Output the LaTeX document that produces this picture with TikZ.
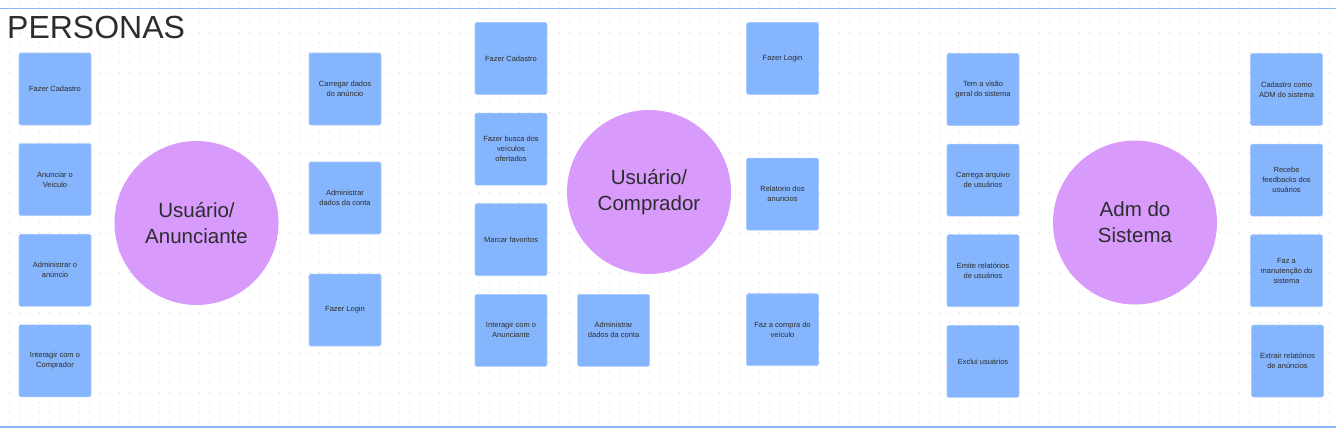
\documentclass[tikz,border=0pt]{standalone}
\usepackage{fontspec}
\setmainfont{Liberation Sans}
\usetikzlibrary{positioning}
\definecolor{notaazul}{RGB}{133,181,252}
\definecolor{circulo}{RGB}{216,155,252}
\definecolor{linhaazul}{RGB}{140,180,245}
\definecolor{texto}{RGB}{45,45,45}

\begin{document}
\begin{tikzpicture}[
    x=1pt, y=-1pt,
    node distance=18pt and 18pt,
    nota/.style={rectangle, draw=notaazul!70!white, line width=0.6pt, fill=notaazul, rounded corners=1.5pt, minimum width=72pt, minimum height=72pt, inner sep=1pt, align=center, text=texto, font=\fontsize{7.5}{10}\selectfont},
    persona/.style={circle, fill=circulo, minimum size=164pt, inner sep=0pt, align=center, text=texto, font=\fontsize{20.5}{26}\selectfont},
    ponto/.style={black!16, line width=1pt, dash pattern=on 1pt off 9pt},
    divisa/.style={linhaazul, line width=1.5pt}
]
\useasboundingbox (0,0) rectangle (1336,432);

% Fundo pontilhado
\foreach \y in {2,12,...,422}
    \draw[ponto] (9,\y) -- (1336,\y);

\draw[divisa] (0,8.5) -- (1336,8.5);
\draw[divisa] (0,427) -- (1336,427);

% Titulo
\node[anchor=base west, inner sep=0pt, text=texto, font=\fontsize{32}{38}\selectfont] (titulo) at (7,38) {PERSONAS};

% Usuario / Anunciante
\node[persona] (anunciante) at (196.5,223) {Usuário/\\Anunciante};
\node[nota] (anCadastro) at (55,89) {Fazer Cadastro};
\node[nota, below=of anCadastro] (anVeiculo) {Anunciar o\\Veiculo};
\node[nota, below=of anVeiculo] (anAnuncio) {Administrar o\\anúncio};
\node[nota, below=of anAnuncio] (anComprador) {Interagir com o\\Comprador};
\node[nota] (anCarregar) at (345,89) {Carregar dados\\do anúncio};
\node[nota] (anConta) at (345,198) {Administrar\\dados da conta};
\node[nota] (anLogin) at (345,310) {Fazer Login};

% Usuario / Comprador
\node[persona] (comprador) at (649,192) {Usuário/\\Comprador};
\node[nota] (coCadastro) at (511,58.5) {Fazer Cadastro};
\node[nota, below=of coCadastro] (coBusca) {Fazer busca dos\\veículos\\ofertados};
\node[nota, below=of coBusca] (coFavoritos) {Marcar favoritos};
\node[nota, below=of coFavoritos] (coAnunciante) {Interagir com o\\Anunciante};
\node[nota, right=30pt of coAnunciante] (coConta) {Administrar\\dados da conta};
\node[nota] (coLogin) at (782.5,58.5) {Fazer Login};
\node[nota, below=63pt of coLogin] (coRelatorio) {Relatorio dos\\anuncios};
\node[nota, below=63pt of coRelatorio] (coCompra) {Faz a compra do\\veículo};

% Adm do Sistema
\node[persona] (adm) at (1135,222.5) {Adm do\\Sistema};
\node[nota] (adVisao) at (983,89.5) {Tem a visão\\geral do sistema};
\node[nota, below=of adVisao] (adArquivo) {Carrega arquivo\\de usuários};
\node[nota, below=of adArquivo] (adEmite) {Emite relatórios\\de usuários};
\node[nota, below=of adEmite] (adExclui) {Exclui usuários};
\node[nota] (adCadastro) at (1286.5,89.5) {Cadastro como\\ADM do sistema};
\node[nota, below=of adCadastro] (adFeedback) {Recebe\\feedbacks dos\\usuários};
\node[nota, below=of adFeedback] (adManutencao) {Faz a\\manutenção do\\sistema};
\node[nota] (adExtrair) at (1287.5,361) {Extrair relatórios\\de anúncios};

\end{tikzpicture}
\end{document}
